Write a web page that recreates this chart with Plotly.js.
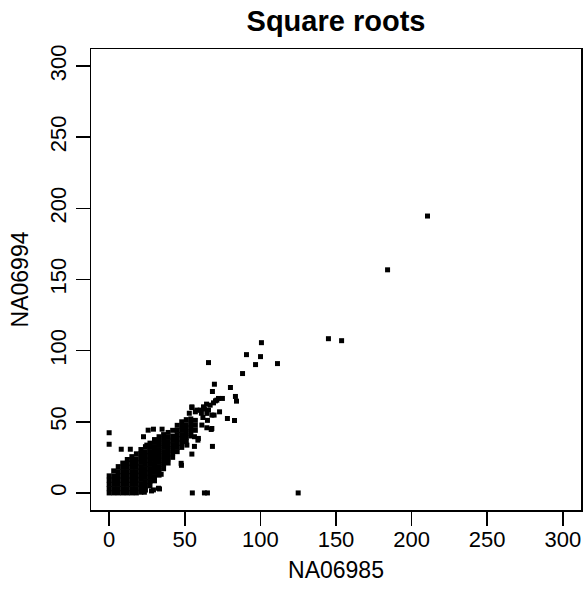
<!DOCTYPE html>
<html>
<head>
<meta charset="utf-8">
<script src="https://cdn.plot.ly/plotly-3.0.1.min.js"></script>
<style>
  html, body { margin: 0; padding: 0; background: #ffffff; }
  #chart { width: 585px; height: 589px; }
</style>
</head>
<body>
<div id="chart"></div>
<script>
// Square-root transformed expression values, NA06985 vs NA06994.

// Dense core of the cloud, grouped by NA06985 value (one list of NA06994 values per column).
const coreCols = [0, 3, 6, 9, 12, 15, 18, 21, 24, 27, 30, 33, 36, 39, 42, 45, 48, 51, 54, 57];
const coreVals = [
  [0, 3, 6, 9, 12],
  [0, 3, 6, 9, 12, 15.5],
  [0, 3, 6, 9, 12, 15, 18.5],
  [0, 3, 6, 9, 12, 15, 18, 21],
  [0, 3, 6, 9, 12, 15, 18, 21, 23.5],
  [0, 3, 6, 9, 12, 15, 18, 21, 23.5, 25.5],
  [0, 3, 6, 9, 12, 15, 18, 21, 24, 27.5],
  [0.5, 3.5, 6.5, 9.5, 12.5, 15.5, 18.5, 21.5, 24.5, 27.5, 30.5],
  [2, 5, 8, 11, 14, 17, 20, 23, 26, 29, 32.5],
  [5, 8, 11, 14, 17, 20, 23, 26, 29, 32, 35],
  [8.5, 11.5, 14.5, 17.5, 20.5, 23.5, 26.5, 29.5, 32.5, 35.5, 37.5],
  [12.5, 15.5, 18.5, 21.5, 24.5, 27.5, 30.5, 33.5, 36.5, 39.5],
  [17, 20, 23, 26, 29, 32, 35, 38, 41],
  [21, 24, 27, 30, 33, 36, 39, 42.5],
  [25, 28, 31, 34, 37, 40, 44],
  [29, 32, 35, 38, 41, 44, 47.5],
  [32, 35, 38, 41, 44, 47, 50],
  [36, 39, 42, 45, 48, 51.5],
  [40, 43, 46, 49, 52],
  [44, 47.5, 51]
];

// Scattered genes around and away from the core.
const spreadX = [210.5, 184.1, 145.0, 153.7, 100.7, 90.8, 100.1, 65.7, 96.8, 111.3,
  88.2, 69.6, 80.2, 68.3, 83.5, 84.2, 74.9, 64.4, 78.2, 82.9,
  68.3, 56.4, 47.8, 55.0, 63.0, 65.0, 125.0, 0.0, 0.0, 8.0,
  14.0, 25.8, 29.3, 35.0, 33.3, 28.0, 23.3, 67.5, 64.6, 58.7,
  61.3, 71.2, 69.0, 66.8, 62.4, 60.2, 58.0, 54.7, 73.0, 67.9,
  64.6, 67.9, 59.0, 54.7, 22.7, 24.9, 47.6, 32.6, 29.3, 56.4,
  54.7, 65.7, 69.4, 70.3, 72.3, 49.8, 51.4, 34.4, 57.0, 61.0,
  63.0, 62.0, 65.0, 53.0];
const spreadY = [194.6, 156.8, 108.4, 107.0, 105.6, 97.2, 95.8, 91.6, 90.2, 90.9,
  83.9, 76.4, 74.1, 71.3, 67.8, 64.5, 66.4, 62.4, 52.3, 50.9,
  32.7, 32.7, 19.4, 0.0, 0.0, 0.0, 0.0, 42.3, 34.2, 30.7,
  30.7, 44.1, 44.8, 44.8, 2.8, 1.4, 0.5, 44.6, 45.8, 37.1,
  47.7, 65.2, 63.3, 61.7, 60.5, 58.2, 58.2, 60.5, 57.0, 54.7,
  55.9, 45.3, 38.3, 27.3, 39.5, 33.6, 20.8, 3.3, 2.1, 39.5,
  60.0, 58.2, 54.7, 64.7, 66.4, 37.1, 33.6, 13.1, 57.0, 56.0,
  59.0, 53.0, 51.0, 56.0];

const tickValues = [0, 50, 100, 150, 200, 250, 300];
const tickLabels = ['0', '50', '100', '150', '200', '250', '300'];

const xs = [];
const ys = [];
coreCols.forEach((c, i) => {
  coreVals[i].forEach(v => { xs.push(c); ys.push(v); });
});
spreadX.forEach((v, i) => { xs.push(v); ys.push(spreadY[i]); });

const fontFam = '"Liberation Sans", Arial, Helvetica, sans-serif';

const trace = {
  type: 'scatter',
  mode: 'markers',
  x: xs,
  y: ys,
  marker: { symbol: 'square', size: 5, color: '#000000', line: { width: 0 } },
  hoverinfo: 'x+y'
};

function axis(extra) {
  return Object.assign({
    range: [-12, 312],
    tickmode: 'array',
    tickvals: tickValues,
    ticktext: tickLabels,
    ticks: 'outside',
    ticklen: 14,
    tickwidth: 1.5,
    tickcolor: '#000000',
    showline: true,
    mirror: true,
    linecolor: '#000000',
    linewidth: 1.5,
    showgrid: false,
    zeroline: false,
    tickfont: { family: fontFam, size: 22, color: '#000000' },
    fixedrange: true
  }, extra);
}

const layout = {
  width: 585,
  height: 589,
  margin: { l: 91, r: 4, t: 49, b: 79 },
  paper_bgcolor: '#ffffff',
  plot_bgcolor: '#ffffff',
  showlegend: false,
  title: {
    text: '<b>Square roots</b>',
    font: { family: fontFam, size: 29, color: '#000000' },
    x: (91 + 581) / 2 / 585,
    xanchor: 'center',
    xref: 'container',
    y: 1 - 20.5 / 589,
    yref: 'container',
    yanchor: 'middle'
  },
  xaxis: axis({
    ticklabelstandoff: -5,
    title: { text: 'NA06985', standoff: 11, font: { family: fontFam, size: 23, color: '#000000' } }
  }),
  yaxis: axis({
    tickangle: -90,
    ticklabelstandoff: 1,
    title: { text: 'NA06994', standoff: 10, font: { family: fontFam, size: 23, color: '#000000' } }
  })
};

Plotly.newPlot('chart', [trace], layout, { displayModeBar: false, staticPlot: true });
</script>
</body>
</html>
